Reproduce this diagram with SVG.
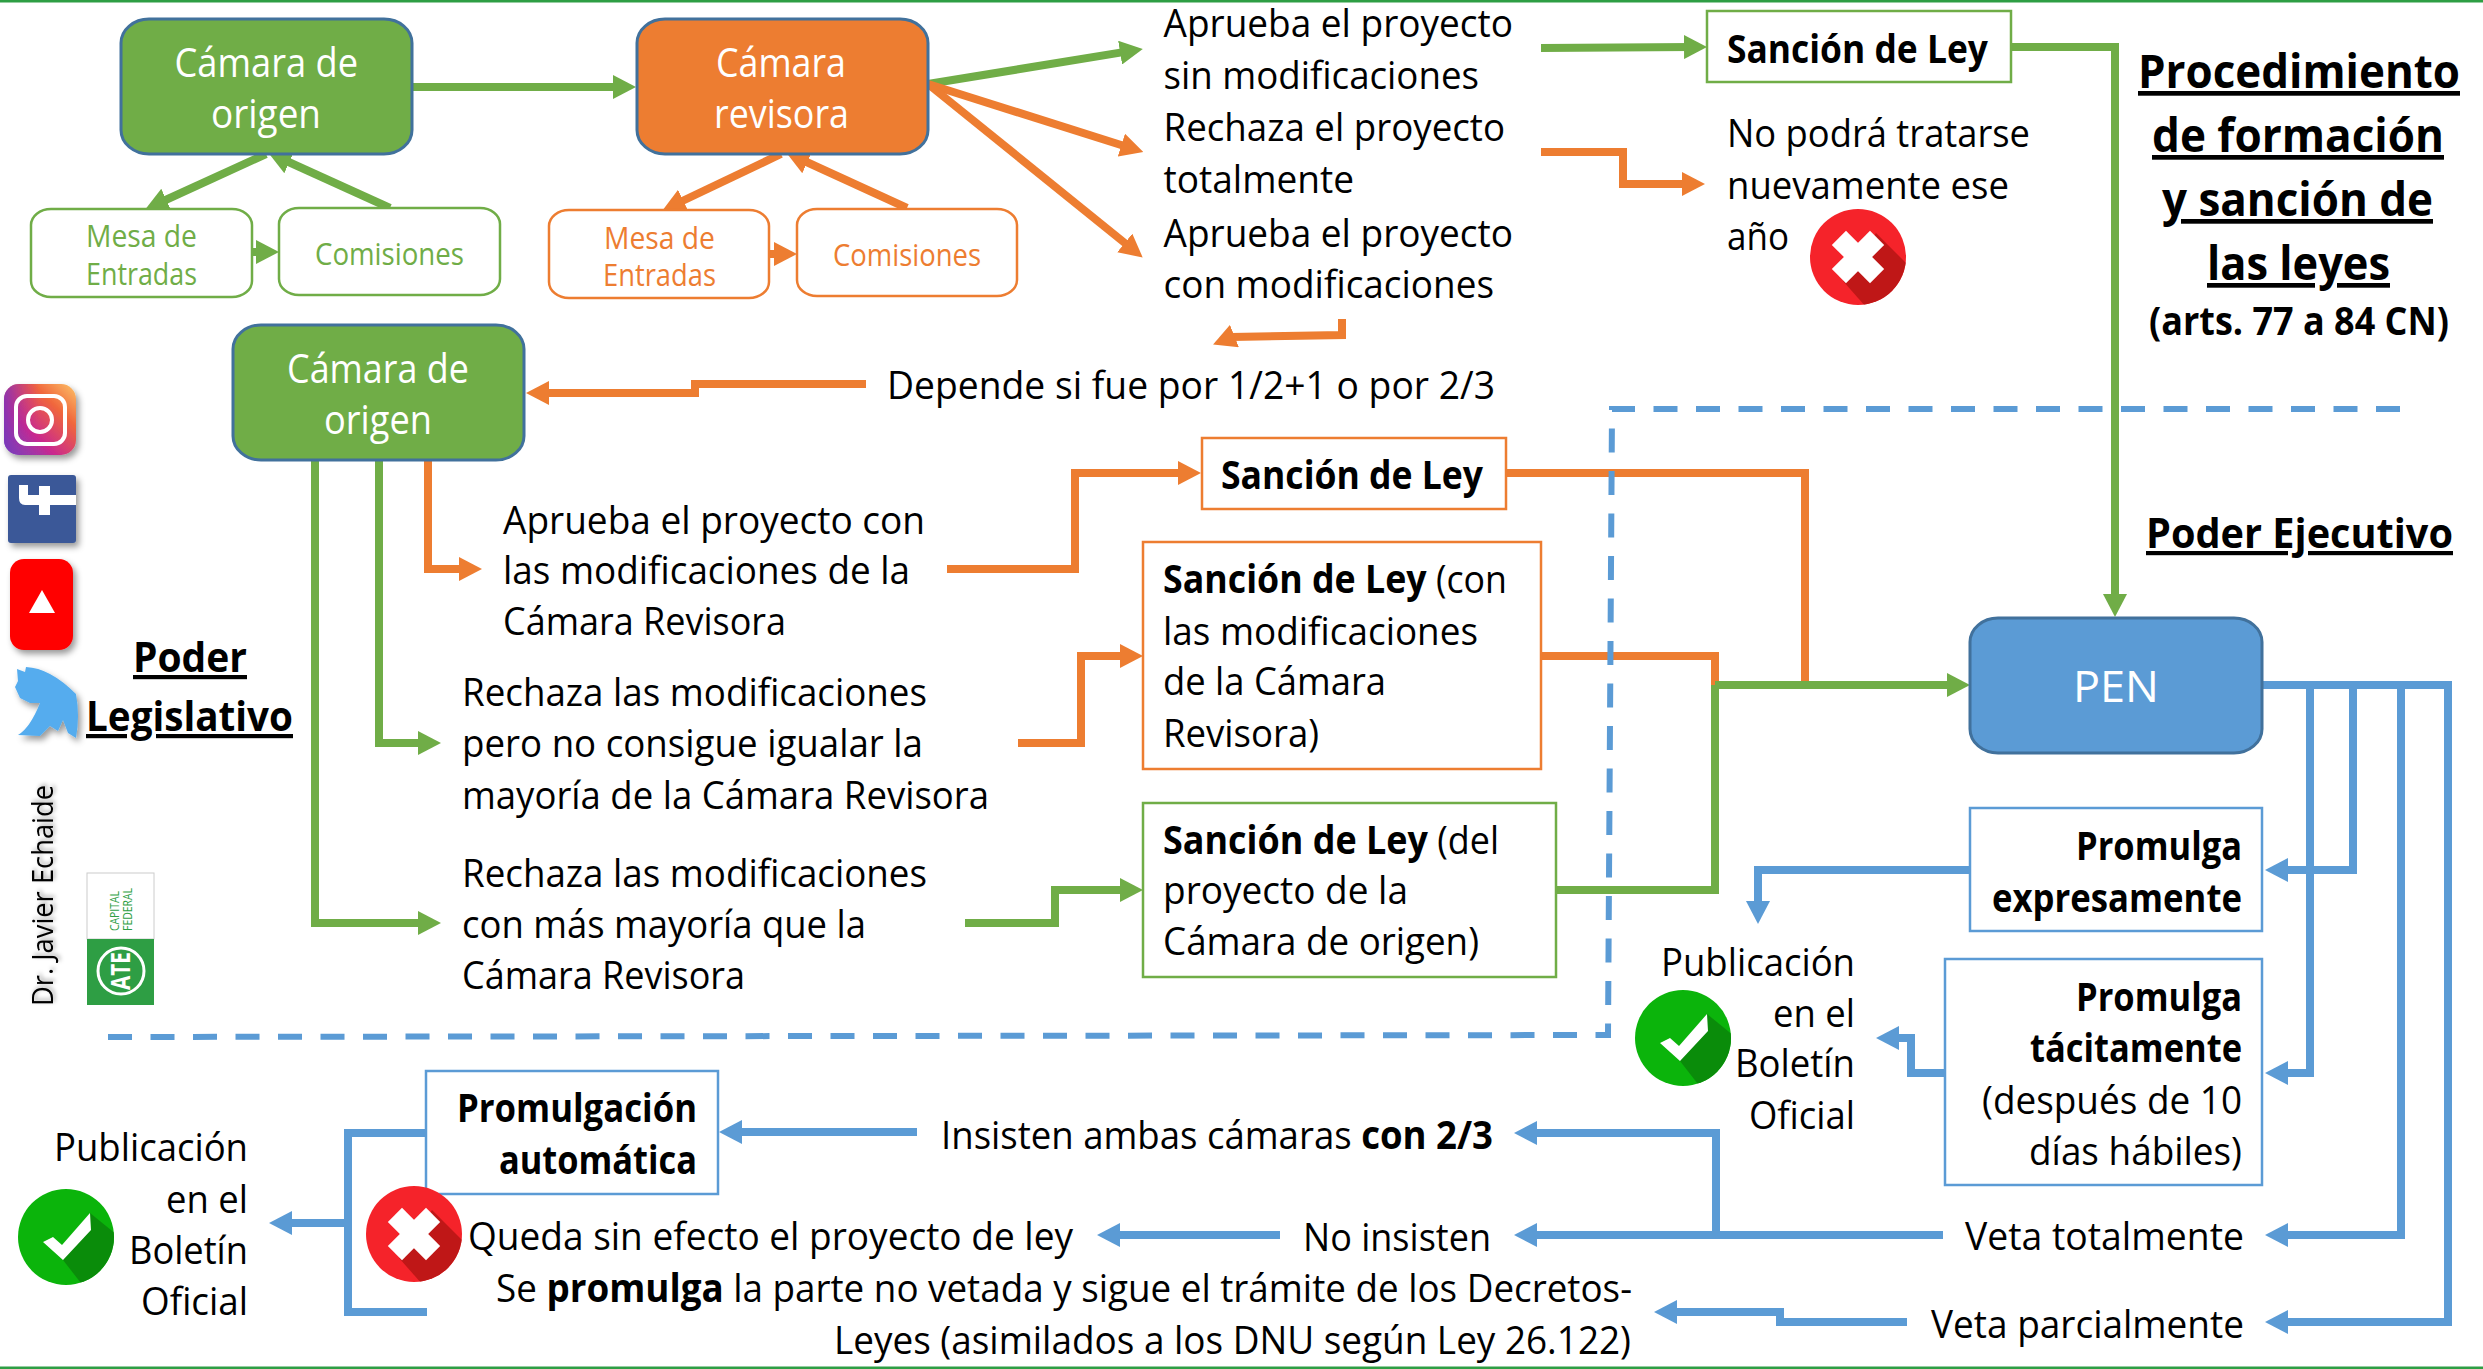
<svg xmlns="http://www.w3.org/2000/svg" width="2483" height="1369" viewBox="0 0 2483 1369">
<style>
text{font-family:"Open Sans","Liberation Sans",sans-serif;fill:#000;font-size:39px}
text:not([transform]){transform:translateY(2px)}
.b{font-weight:700}
.e{text-anchor:end}
.w{fill:#fff;font-size:41px}
.big{font-size:47px;font-weight:700;text-decoration:underline}
.sec{font-size:42px;font-weight:700;text-decoration:underline}
.s{font-size:31px}
.gt{fill:#70ad47}.ot{fill:#ed7d31}
.node{stroke:#41719c;stroke-width:3}
.g{fill:none;stroke:#70ad47;stroke-width:8}
.o{fill:none;stroke:#ed7d31;stroke-width:8}
.bl{fill:none;stroke:#5b9bd5;stroke-width:8}
.ga{marker-end:url(#ag)}.oa{marker-end:url(#ao)}.ba{marker-end:url(#ab)}
.dash{fill:none;stroke:#5b9bd5;stroke-width:6;stroke-dasharray:24 18.5}
.box{fill:#fff;stroke-width:2.5}
</style>
<defs>
<marker id="ag" markerUnits="userSpaceOnUse" markerWidth="23" markerHeight="24" refX="8" refY="12" orient="auto"><path d="M0 0L23 12L0 24Z" fill="#70ad47"/></marker>
<marker id="ao" markerUnits="userSpaceOnUse" markerWidth="23" markerHeight="24" refX="8" refY="12" orient="auto"><path d="M0 0L23 12L0 24Z" fill="#ed7d31"/></marker>
<marker id="ab" markerUnits="userSpaceOnUse" markerWidth="23" markerHeight="24" refX="8" refY="12" orient="auto"><path d="M0 0L23 12L0 24Z" fill="#5b9bd5"/></marker>
<clipPath id="cc"><circle r="48"/></clipPath>
<linearGradient id="ig" x1="0" y1="1" x2="1" y2="0"><stop offset="0" stop-color="#5b4fd0"/><stop offset=".35" stop-color="#c9288f"/><stop offset=".7" stop-color="#f0663c"/><stop offset="1" stop-color="#fdc468"/></linearGradient>
<linearGradient id="ig2" x1="0" y1="0" x2="1" y2="0"><stop offset="0" stop-color="#7b35b8" stop-opacity=".8"/><stop offset=".5" stop-color="#c9288f" stop-opacity="0"/></linearGradient>
<filter id="sh" x="-20%" y="-20%" width="150%" height="150%"><feDropShadow dx="3" dy="4" stdDeviation="3" flood-color="#000" flood-opacity=".4"/></filter>
<g id="ok"><circle r="48" fill="#0bb40b"/><path clip-path="url(#cc)" d="M-3 23L18 50L50 50L50 -3L24 -24Z" fill="#0a8c0a"/><path d="M-23 5L-13 0L-4 8L24 -24L25 -7L-3 23Z" fill="#fff"/></g>
<g id="no"><circle r="48" fill="#f5232a"/><path clip-path="url(#cc)" d="M-15 24L8 50L50 50L50 8L18 -24Z" fill="#bf1717"/><g transform="rotate(45)" fill="#fff"><rect x="-10" y="-27" width="20" height="54"/><rect x="-27" y="-10" width="54" height="20"/></g></g>
</defs>
<rect width="2483" height="1369" fill="#fff"/>
<rect id="frame-top" width="2483" height="2.5" fill="#2e9e44"/>
<rect id="frame-bottom" y="1366.5" width="2483" height="2.5" fill="#2e9e44"/>

<g id="connectors">
<path class="g ga" d="M412 87H621"/>
<path class="g ga" d="M266 154L159 203"/>
<path class="g ga" d="M390 208L282 159"/>
<path class="g ga" d="M252 252H264"/>
<path class="o oa" d="M781 154L676 204"/>
<path class="o oa" d="M907 208L800 159"/>
<path class="o oa" d="M769 254H782"/>
<path class="g ga" d="M928 84L1128 51.4"/>
<path class="o oa" d="M928 84L1129 147.5"/>
<path class="o oa" d="M928 84L1131 248"/>
<path class="g ga" d="M1541 48L1692 47"/>
<path class="g" d="M2011 47H2115V602" marker-end="url(#ag)"/>
<path class="o oa" d="M1541 152H1623V184H1690"/>
<path class="o oa" d="M1342 319V335L1232 337L1227 339"/>
<path class="o oa" d="M866 384H695V393H541"/>
<path class="o oa" d="M428 460V569H467"/>
<path class="g ga" d="M379 460V743H426"/>
<path class="g ga" d="M315 460V923H426"/>
<path class="o oa" d="M947 569H1075V473H1186"/>
<path class="o oa" d="M1018 743H1081V656H1128"/>
<path class="g ga" d="M965 923H1055V890H1128"/>
<path class="o" d="M1506 473H1805V685"/>
<path class="o" d="M1541 656H1715V685"/>
<path class="g" d="M1556 890H1715V685"/>
<path class="g ga" d="M1715 685H1955"/>
<path class="bl" d="M2262 685H2448V1322H2280" marker-end="url(#ab)"/>
<path class="bl ba" d="M2353 685V870H2280"/>
<path class="bl ba" d="M2310 685V1073H2280"/>
<path class="bl ba" d="M2401 685V1235H2280"/>
<path class="bl ba" d="M1970 870H1758V909"/>
<path class="bl ba" d="M1945 1073H1911V1038H1891"/>
<path class="bl ba" d="M1943 1235H1529"/>
<path class="bl ba" d="M1716 1235V1133H1529"/>
<path class="bl ba" d="M1907 1322H1780V1312H1669"/>
<path class="bl ba" d="M917 1132H734"/>
<path class="bl ba" d="M1280 1235H1112"/>
<path class="bl" d="M426 1133H348V1312H427"/>
<path class="bl ba" d="M348 1223H284"/>
<path class="dash" d="M2400 409H1612L1608 1035L107 1037"/>
</g>

<g id="camara-origen-1"><rect class="node" x="121" y="19" width="291" height="135" rx="28" ry="24" fill="#70ad47"/><text class="w" x="174.5" y="75" textLength="183.5" lengthAdjust="spacingAndGlyphs">Cámara de</text><text class="w" x="211" y="126" textLength="110" lengthAdjust="spacingAndGlyphs">origen</text></g>
<g id="camara-revisora"><rect class="node" x="637" y="19" width="291" height="135" rx="28" ry="24" fill="#ed7d31"/><text class="w" x="716" y="75" textLength="130" lengthAdjust="spacingAndGlyphs">Cámara</text><text class="w" x="714" y="126" textLength="135" lengthAdjust="spacingAndGlyphs">revisora</text></g>
<g id="mesa-verde"><rect class="box" x="31" y="209" width="221" height="88" rx="20" ry="16" stroke="#70ad47"/><text class="s gt" x="86" y="245" textLength="111" lengthAdjust="spacingAndGlyphs">Mesa de</text><text class="s gt" x="86" y="283" textLength="111" lengthAdjust="spacingAndGlyphs">Entradas</text></g>
<g id="comisiones-verde"><rect class="box" x="279" y="208" width="221" height="87" rx="20" ry="16" stroke="#70ad47"/><text class="s gt" x="315" y="263" textLength="149" lengthAdjust="spacingAndGlyphs">Comisiones</text></g>
<g id="mesa-naranja"><rect class="box" x="549" y="210" width="220" height="88" rx="20" ry="16" stroke="#ed7d31"/><text class="s ot" x="604" y="247" textLength="111" lengthAdjust="spacingAndGlyphs">Mesa de</text><text class="s ot" x="603" y="284" textLength="113" lengthAdjust="spacingAndGlyphs">Entradas</text></g>
<g id="comisiones-naranja"><rect class="box" x="797" y="209" width="220" height="87" rx="20" ry="16" stroke="#ed7d31"/><text class="s ot" x="833" y="264" textLength="148" lengthAdjust="spacingAndGlyphs">Comisiones</text></g>

<g id="res-aprueba-sin"><text x="1163.5" y="35" textLength="349.5" lengthAdjust="spacingAndGlyphs">Aprueba el proyecto</text><text x="1163.5" y="87" textLength="315.5" lengthAdjust="spacingAndGlyphs">sin modificaciones</text></g>
<g id="res-rechaza"><text x="1163.5" y="139" textLength="341.5" lengthAdjust="spacingAndGlyphs">Rechaza el proyecto</text><text x="1163.5" y="191" textLength="190.5" lengthAdjust="spacingAndGlyphs">totalmente</text></g>
<g id="res-aprueba-con"><text x="1163.5" y="245" textLength="349.5" lengthAdjust="spacingAndGlyphs">Aprueba el proyecto</text><text x="1163.5" y="296" textLength="330.5" lengthAdjust="spacingAndGlyphs">con modificaciones</text></g>
<g id="sancion-1"><rect class="box" x="1707" y="11" width="304" height="71" stroke="#70ad47"/><text class="b" x="1727" y="61" textLength="261" lengthAdjust="spacingAndGlyphs">Sanción de Ley</text></g>
<g id="no-podra"><text x="1727" y="145" textLength="303" lengthAdjust="spacingAndGlyphs">No podrá tratarse</text><text x="1727" y="197" textLength="282" lengthAdjust="spacingAndGlyphs">nuevamente ese</text><text x="1727" y="248" textLength="62" lengthAdjust="spacingAndGlyphs">año</text><use href="#no" transform="translate(1858 257)"/></g>

<g id="titulo"><text class="big" x="2138" y="86" textLength="322" lengthAdjust="spacingAndGlyphs">Procedimiento</text><text class="big" x="2152" y="150" textLength="292" lengthAdjust="spacingAndGlyphs">de formación</text><text class="big" x="2162" y="214" textLength="271" lengthAdjust="spacingAndGlyphs">y sanción de</text><text class="big" x="2207" y="278" textLength="183" lengthAdjust="spacingAndGlyphs">las leyes</text><text class="b" x="2149" y="333" textLength="300" lengthAdjust="spacingAndGlyphs">(arts. 77 a 84 CN)</text></g>
<text id="poder-ejecutivo" class="sec" x="2146" y="546" textLength="307" lengthAdjust="spacingAndGlyphs">Poder Ejecutivo</text>
<g id="poder-legislativo"><text class="sec" x="133" y="670" textLength="114" lengthAdjust="spacingAndGlyphs">Poder</text><text class="sec" x="86" y="729" textLength="207" lengthAdjust="spacingAndGlyphs">Legislativo</text></g>

<g id="camara-origen-2"><rect class="node" x="233" y="325" width="291" height="135" rx="28" ry="24" fill="#70ad47"/><text class="w" x="287" y="381" textLength="182" lengthAdjust="spacingAndGlyphs">Cámara de</text><text class="w" x="324" y="432" textLength="108" lengthAdjust="spacingAndGlyphs">origen</text></g>
<text id="depende" x="887" y="397" textLength="608" lengthAdjust="spacingAndGlyphs">Depende si fue por 1/2+1 o por 2/3</text>
<g id="opt-aprueba"><text x="503" y="532" textLength="422" lengthAdjust="spacingAndGlyphs">Aprueba el proyecto con</text><text x="503" y="582" textLength="407" lengthAdjust="spacingAndGlyphs">las modificaciones de la</text><text x="503" y="633" textLength="283" lengthAdjust="spacingAndGlyphs">Cámara Revisora</text></g>
<g id="opt-rechaza-1"><text x="462" y="704" textLength="465" lengthAdjust="spacingAndGlyphs">Rechaza las modificaciones</text><text x="462" y="755" textLength="461" lengthAdjust="spacingAndGlyphs">pero no consigue igualar la</text><text x="462" y="807" textLength="527" lengthAdjust="spacingAndGlyphs">mayoría de la Cámara Revisora</text></g>
<g id="opt-rechaza-2"><text x="462" y="885" textLength="465" lengthAdjust="spacingAndGlyphs">Rechaza las modificaciones</text><text x="462" y="936" textLength="404" lengthAdjust="spacingAndGlyphs">con más mayoría que la</text><text x="462" y="987" textLength="283" lengthAdjust="spacingAndGlyphs">Cámara Revisora</text></g>
<g id="sancion-2"><rect class="box" x="1202" y="438" width="304" height="71" stroke="#ed7d31"/><text class="b" x="1221" y="487" textLength="262" lengthAdjust="spacingAndGlyphs">Sanción de Ley</text></g>
<g id="sancion-3"><rect class="box" x="1143" y="542" width="398" height="227" stroke="#ed7d31"/><text x="1163" y="591" textLength="344" lengthAdjust="spacingAndGlyphs"><tspan class="b">Sanción de Ley</tspan> (con</text><text x="1163" y="643" textLength="315" lengthAdjust="spacingAndGlyphs">las modificaciones</text><text x="1163" y="693" textLength="223" lengthAdjust="spacingAndGlyphs">de la Cámara</text><text x="1163" y="745" textLength="156" lengthAdjust="spacingAndGlyphs">Revisora)</text></g>
<g id="sancion-4"><rect class="box" x="1143" y="803" width="413" height="174" stroke="#70ad47"/><text x="1163" y="852" textLength="336" lengthAdjust="spacingAndGlyphs"><tspan class="b">Sanción de Ley</tspan> (del</text><text x="1163" y="902" textLength="245" lengthAdjust="spacingAndGlyphs">proyecto de la</text><text x="1163" y="953" textLength="316" lengthAdjust="spacingAndGlyphs">Cámara de origen)</text></g>

<g id="pen"><rect class="node" x="1970" y="618" width="292" height="135" rx="28" ry="24" fill="#5b9bd5"/><text class="w" x="2073" y="700" style="font-size:44px" textLength="86" lengthAdjust="spacingAndGlyphs">PEN</text></g>
<g id="promulga-expresa"><rect class="box" x="1970" y="808" width="292" height="123" stroke="#5b9bd5"/><text class="b e" x="2242" y="858" textLength="166" lengthAdjust="spacingAndGlyphs">Promulga</text><text class="b e" x="2242" y="910" textLength="250" lengthAdjust="spacingAndGlyphs">expresamente</text></g>
<g id="promulga-tacita"><rect class="box" x="1945" y="959" width="317" height="226" stroke="#5b9bd5"/><text class="b e" x="2242" y="1009" textLength="166" lengthAdjust="spacingAndGlyphs">Promulga</text><text class="b e" x="2242" y="1060" textLength="212" lengthAdjust="spacingAndGlyphs">tácitamente</text><text class="e" x="2242" y="1112" textLength="260" lengthAdjust="spacingAndGlyphs">(después de 10</text><text class="e" x="2242" y="1163" textLength="213" lengthAdjust="spacingAndGlyphs">días hábiles)</text></g>
<g id="publicacion-1"><text class="e" x="1855" y="974" textLength="194" lengthAdjust="spacingAndGlyphs">Publicación</text><text class="e" x="1855" y="1025" textLength="82" lengthAdjust="spacingAndGlyphs">en el</text><text class="e" x="1855" y="1075" textLength="120" lengthAdjust="spacingAndGlyphs">Boletín</text><text class="e" x="1855" y="1127" textLength="106" lengthAdjust="spacingAndGlyphs">Oficial</text><use href="#ok" transform="translate(1683 1038)"/></g>
<text id="veta-total" x="1965" y="1248" textLength="279" lengthAdjust="spacingAndGlyphs">Veta totalmente</text>
<text id="veta-parcial" x="1931" y="1336" textLength="313" lengthAdjust="spacingAndGlyphs">Veta parcialmente</text>
<text id="insisten" x="941" y="1147" textLength="552" lengthAdjust="spacingAndGlyphs">Insisten ambas cámaras <tspan class="b">con 2/3</tspan></text>
<text id="no-insisten" x="1303" y="1249" textLength="188" lengthAdjust="spacingAndGlyphs">No insisten</text>
<g id="promulgacion-auto"><rect class="box" x="426" y="1071" width="292" height="123" stroke="#5b9bd5"/><text class="b e" x="697" y="1120" textLength="240" lengthAdjust="spacingAndGlyphs">Promulgación</text><text class="b e" x="697" y="1172" textLength="198" lengthAdjust="spacingAndGlyphs">automática</text></g>
<g id="queda-sin-efecto"><use href="#no" transform="translate(414 1234)"/><text x="468" y="1248" textLength="605" lengthAdjust="spacingAndGlyphs">Queda sin efecto el proyecto de ley</text></g>
<g id="promulga-parte"><text x="496" y="1300" textLength="1136" lengthAdjust="spacingAndGlyphs">Se <tspan class="b">promulga</tspan> la parte no vetada y sigue el trámite de los Decretos-</text><text x="834" y="1352" textLength="797" lengthAdjust="spacingAndGlyphs">Leyes (asimilados a los DNU según Ley 26.122)</text></g>
<g id="publicacion-2"><text class="e" x="248" y="1159" textLength="194" lengthAdjust="spacingAndGlyphs">Publicación</text><text class="e" x="248" y="1211" textLength="82" lengthAdjust="spacingAndGlyphs">en el</text><text class="e" x="248" y="1262" textLength="119" lengthAdjust="spacingAndGlyphs">Boletín</text><text class="e" x="248" y="1313" textLength="107" lengthAdjust="spacingAndGlyphs">Oficial</text><use href="#ok" transform="translate(66 1237)"/></g>

<g id="icon-instagram" filter="url(#sh)"><rect x="4" y="384" width="72" height="71" rx="15" fill="url(#ig)"/><rect x="4" y="384" width="72" height="71" rx="15" fill="url(#ig2)"/><rect x="16" y="396" width="49" height="48" rx="11" fill="none" stroke="#fff" stroke-width="4"/><circle cx="40" cy="420" r="12" fill="none" stroke="#fff" stroke-width="4"/></g>
<g id="icon-facebook" filter="url(#sh)"><rect x="8" y="475" width="68" height="68" rx="3" fill="#3b5998"/><path d="M19 485H28V495H39V486H50V495H76V505H50V515H39V505H25Q19 505 19 498Z" fill="#fff"/></g>
<g id="icon-youtube" filter="url(#sh)"><rect x="10" y="559" width="63" height="91" rx="14" fill="#f00"/><path d="M29 613H55L42 590Z" fill="#fff"/></g>
<g id="icon-twitter" filter="url(#sh)"><path d="M17 669L25 672L26 667Q50 668 76 694Q80 716 76 738L68 733L63 720L58 731L50 726L40 736L18 735Q30 728 40 703L30 703L20 698L15 687L18 681Z" fill="#55acee"/></g>
<text id="autor" transform="translate(53 1006) rotate(-90)" textLength="221" lengthAdjust="spacingAndGlyphs" style="font-size:30px;filter:drop-shadow(2px 2px 2px rgba(0,0,0,.35))">Dr. Javier Echaide</text>
<g id="logo-ate"><rect x="87" y="873" width="67" height="66" fill="#fff" stroke="#ccc" stroke-width="1"/><rect x="87" y="939" width="67" height="66" fill="#2e9e44"/><text transform="translate(119 931) rotate(-90)" style="font-size:12px;fill:#2e9e44" textLength="40" lengthAdjust="spacingAndGlyphs">CAPITAL</text><text transform="translate(132 931) rotate(-90)" style="font-size:12px;fill:#2e9e44" textLength="43" lengthAdjust="spacingAndGlyphs">FEDERAL</text><circle cx="121" cy="971" r="23" fill="none" stroke="#fff" stroke-width="3"/><text transform="translate(130 990) rotate(-90)" style="font-size:26px;font-weight:700;fill:#fff" textLength="38" lengthAdjust="spacingAndGlyphs">ATE</text></g>
</svg>
